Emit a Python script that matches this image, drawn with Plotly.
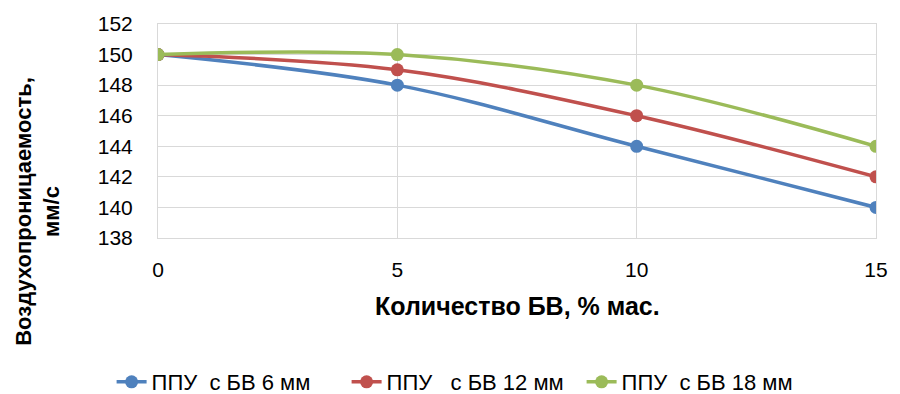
import plotly.graph_objects as go

x_vals = [0, 5, 10, 15]
s6 = [150, 148, 144, 140]
s12 = [150, 149, 146, 142]
s18 = [150, 150, 148, 144]
names = ["ППУ  с БВ 6 мм", "ППУ   с БВ 12 мм", "ППУ  с БВ 18 мм"]
colors = ["#4F81BD", "#C0504D", "#9BBB59"]
y_ticks = [138, 140, 142, 144, 146, 148, 150, 152]
x_ticks = [0, 5, 10, 15]

FONT = "Liberation Sans, Arial, sans-serif"

fig = go.Figure()
for ys, nm, c in zip([s6, s12, s18], names, colors):
    fig.add_trace(go.Scatter(
        x=x_vals, y=ys, name=nm, mode="lines+markers",
        line=dict(color=c, width=3.5, shape="spline", smoothing=1.0),
        marker=dict(color=c, size=13),
    ))

fig.update_layout(
    width=900, height=394, autosize=False,
    margin=dict(l=158, r=16, t=24, b=156),
    paper_bgcolor="white", plot_bgcolor="white",
    font=dict(family=FONT, color="#000000"),
    showlegend=True,
    legend=dict(orientation="h", xref="container", yref="container",
                x=0.124, xanchor="left", y=0.0305, yanchor="middle",
                font=dict(size=22, family=FONT), entrywidth=190,
                tracegroupgap=0),
    xaxis=dict(range=[0, 15], tickvals=x_ticks, showgrid=True, gridcolor="#D9D9D9",
               gridwidth=1, zeroline=False, showline=True, linecolor="#D9D9D9",
               mirror=True, tickfont=dict(size=21), ticks="", ticklabelstandoff=13),
    yaxis=dict(range=[138, 152], tickvals=y_ticks, showgrid=True, gridcolor="#D9D9D9",
               gridwidth=1, zeroline=False, showline=True, linecolor="#D9D9D9",
               mirror=True, tickfont=dict(size=21), ticks="", ticklabelstandoff=20),
    annotations=[
        dict(text="<b>Количество БВ, % мас.</b>", xref="paper", yref="paper",
             x=0.5, y=-0.318, xanchor="center", yanchor="middle", showarrow=False,
             font=dict(size=25, family=FONT)),
        dict(text="<b>Воздухопроницаемость,<br>мм/с</b>", xref="paper", yref="paper",
             x=-0.1667, y=0.124, xanchor="center", yanchor="middle", showarrow=False,
             textangle=-90, font=dict(size=22, family=FONT)),
    ],
)

post = (
    "document.documentElement.style.margin='0';"
    "document.documentElement.style.overflow='hidden';"
    "document.body.style.margin='0';"
    "document.body.style.overflow='hidden';"
    "var d=document.getElementsByClassName('plotly-graph-div')[0];"
    "d.style.position='fixed';d.style.left='0px';d.style.top='0px';"
)
fig.write_html("out.html", config={"displayModeBar": False, "responsive": False},
               post_script=post)
